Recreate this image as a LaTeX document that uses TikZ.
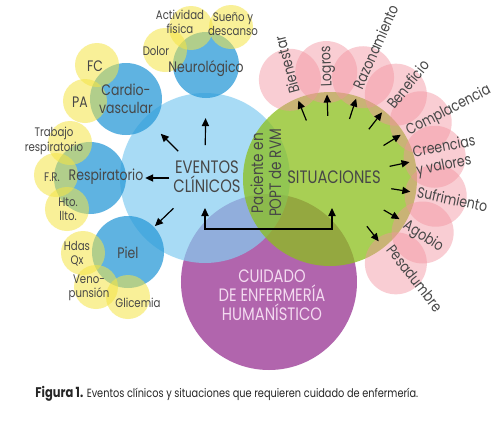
\documentclass[tikz,border=0pt]{standalone}
\usepackage{fontspec}
\setmainfont{Poppins}[FakeStretch=0.82]
\usetikzlibrary{arrows.meta,positioning,calc}
\definecolor{Sky}{HTML}{84CDF1}
\definecolor{Leaf}{HTML}{8BBF1C}
\definecolor{Plum}{HTML}{B165AD}
\definecolor{Ocean}{HTML}{2A9AD8}
\definecolor{Lemon}{HTML}{F5E545}
\definecolor{Rose}{HTML}{F3929E}
\definecolor{Ink}{HTML}{474747}
\definecolor{Blush}{HTML}{F3DAF0}

\begin{document}
\begin{tikzpicture}[
    x=0.5pt, y=0.5pt,
    big/.style={circle,inner sep=0pt},
    bluec/.style={circle,inner sep=0pt,fill=Ocean,fill opacity=.75},
    yelc/.style={circle,inner sep=0pt,minimum size=22pt,fill=Lemon,fill opacity=.55},
    pinkc/.style={circle,inner sep=0pt,minimum size=31pt,fill=Rose,fill opacity=.45},
    caps/.style={text=Ink,font=\fontsize{9}{9.5}\selectfont,align=center,inner sep=0pt},
    lab/.style={text=Ink,font=\fontsize{7.6}{9}\selectfont,align=center,inner sep=0pt},
    small/.style={text=Ink,font=\fontsize{6.2}{7.2}\selectfont,align=center,inner sep=0pt},
    plab/.style={text=Ink,font=\fontsize{7.6}{9}\selectfont,anchor=base west,inner sep=0pt},
    arr/.style={-{Triangle[length=4pt,width=3.6pt]},line width=0.6pt,black}
  ]
    \fill[white] (0,0) rectangle (500,420);
    \useasboundingbox (0,0) rectangle (500,420);

    % three main circles
    \node[big,fill=Plum,minimum size=88pt] (cuidC) at (269,138) {};
    \node[big,fill=Sky,fill opacity=.7,minimum size=85pt] (evC) at (205,242) {};
    \node[big,fill=Leaf,fill opacity=.75,minimum size=87pt] (sitC) at (330,241) {};

    % clinical events
    \node[bluec,minimum size=33pt] (neuroC) at (206,355) {};
    \node[bluec,minimum size=36pt] (cardioC) at (126,321) {};
    \node[bluec,minimum size=36pt] (respC) at (90,242) {};
    \node[bluec,minimum size=36pt] (pielC) at (128,168) {};

    \node[yelc] (actC) at (191,392) {};
    \node[yelc] (suenoC) at (231,393) {};
    \node[yelc] (dolorC) at (165,370) {};
    \node[yelc] (fcC) at (97,355) {};
    \node[yelc] (paC) at (85,319) {};
    \node[yelc] (trabC) at (70,277) {};
    \node[yelc] (frC) at (56,245) {};
    \node[yelc] (htoC) at (67,211) {};
    \node[yelc] (hdasC) at (83,167) {};
    \node[yelc] (venoC) at (96,133) {};
    \node[yelc] (glicC) at (128,123) {};

    % situations
    \node[pinkc] (bienC) at ($(sitC)+(112:107)$) {};
    \node[pinkc] (logrosC) at ($(sitC)+(92:107)$) {};
    \node[pinkc] (razonC) at ($(sitC)+(72:107)$) {};
    \node[pinkc] (benefC) at ($(sitC)+(52:107)$) {};
    \node[pinkc] (complC) at ($(sitC)+(32:107)$) {};
    \node[pinkc] (creenC) at ($(sitC)+(12:107)$) {};
    \node[pinkc] (sufrC) at ($(sitC)+(-9:107)$) {};
    \node[pinkc] (agobC) at ($(sitC)+(-30:107)$) {};
    \node[pinkc] (pesadC) at ($(sitC)+(-52:107)$) {};

    % texts
    \node[caps] (eventos) at (207,243) {EVENTOS\\CLÍNICOS};
    \node[caps] (situ) at (334,243) {SITUACIONES};
    \node[caps,rotate=90,font=\fontsize{8.3}{9}\selectfont] (paciente) at (266,247) {Paciente en\\POPT de RVM};
    \node[caps,text=Blush] (cuidado) at (272,125) {CUIDADO\\DE ENFERMERÍA\\HUMANÍSTICO};

    \node[lab] (neuro) at (206,351) {Neurológico};
    \node[lab] (cardio) at (126,321) {Cardio-\\vascular};
    \node[lab] (resp) at (106,243) {Respiratorio};
    \node[lab] (piel) at (128,167) {Piel};

    \node[small] (act) at (180,398) {Actividad\\física};
    \node[small] (sueno) at (233,396) {Sueño y\\descanso};
    \node[small] (dolor) at (156,369) {Dolor};
    \node[lab] (fc) at (95,354) {FC};
    \node[lab] (pa) at (80,318) {PA};
    \node[small] (trab) at (54,279) {Trabajo\\respiratorio};
    \node[small] (fr) at (52,243) {F.R.};
    \node[small] (hto) at (68,211) {Hto.\\llto.};
    \node[small] (hdas) at (77,166) {Hdas\\Qx};
    \node[small] (veno) at (89,132) {Veno-\\punsión};
    \node[small] (glic) at (138,117) {Glicemia};

    \node[plab,rotate=105] (bien) at ($(sitC)+(109:92)$) {Bienestar};
    \node[plab,rotate=92] (logros) at ($(sitC)+(89:92)$) {Logros};
    \node[plab,rotate=66] (razon) at ($(sitC)+(70:94)$) {Razonamiento};
    \node[plab,rotate=51] (benef) at ($(sitC)+(47:94)$) {Beneficio};
    \node[plab,rotate=27] (compl) at ($(sitC)+(29:90)$) {Complacencia};
    \node[plab,rotate=11,anchor=west,align=left] (creen) at ($(sitC)+(11:86)$) {Creencias\\y valores};
    \node[plab,rotate=-12] (sufr) at ($(sitC)+(-12:88)$) {Sufrimiento};
    \node[plab,rotate=-33] (agob) at ($(sitC)+(-34:87)$) {Agobio};
    \node[plab,rotate=-52] (pesad) at ($(sitC)+(-52:90)$) {Pesadumbre};

    % arrows
    \draw[arr] ($(evC)!.29!(neuroC)$) -- ($(evC)!.53!(neuroC)$);
    \draw[arr] ($(evC)!.34!(cardioC)$) -- ($(evC)!.56!(cardioC)$);
    \draw[arr] ($(evC)!.31!(respC)$) -- ($(evC)!.52!(respC)$);
    \draw[arr] ($(evC)!.41!(pielC)$) -- ($(evC)!.65!(pielC)$);

    \draw[arr] ($(sitC)!.59!(bienC)$) -- ($(sitC)!.79!(bienC)$);
    \draw[arr] ($(sitC)!.59!(logrosC)$) -- ($(sitC)!.79!(logrosC)$);
    \draw[arr] ($(sitC)!.59!(razonC)$) -- ($(sitC)!.79!(razonC)$);
    \draw[arr] ($(sitC)!.59!(benefC)$) -- ($(sitC)!.79!(benefC)$);
    \draw[arr] ($(sitC)!.59!(complC)$) -- ($(sitC)!.78!(complC)$);
    \draw[arr] ($(sitC)!.57!(creenC)$) -- ($(sitC)!.76!(creenC)$);
    \draw[arr] ($(sitC)!.58!(sufrC)$) -- ($(sitC)!.76!(sufrC)$);
    \draw[arr] ($(sitC)!.58!(agobC)$) -- ($(sitC)!.75!(agobC)$);
    \draw[arr] ($(sitC)!.56!(pesadC)$) -- ($(sitC)!.74!(pesadC)$);

    \coordinate (evfoot) at (205,212);
    \coordinate (sitfoot) at (332,212);
    \draw[{Triangle[length=4pt,width=3.6pt]}-{Triangle[length=4pt,width=3.6pt]},line width=0.6pt]
      (evfoot) -- ++(0,-21) -| (sitfoot);

    \node[anchor=base west,inner sep=0pt,font=\fontsize{5.95}{7}\selectfont,text=black!85] (caption) at (35,23)
      {{\fontsize{7}{8}\selectfont\bfseries Figura 1.} Eventos clínicos y situaciones que requieren cuidado de enfermería.};
  \end{tikzpicture}
\end{document}
